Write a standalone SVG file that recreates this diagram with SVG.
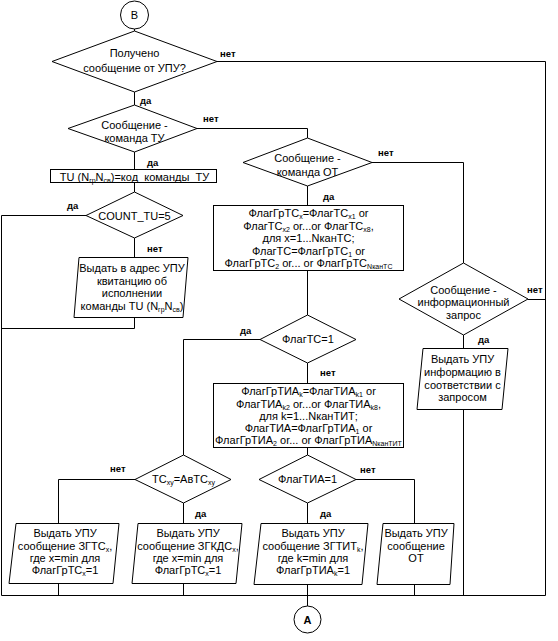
<svg xmlns="http://www.w3.org/2000/svg" width="558" height="641" viewBox="0 0 558 641">
<style>
.sh{fill:#fff;stroke:#000;stroke-width:1}
.ln{fill:none;stroke:#000;stroke-width:1}
.t{font-family:"Liberation Sans",Arial,sans-serif;font-size:11px;fill:#000;text-anchor:middle}
.lb{font-family:"Liberation Sans",Arial,sans-serif;font-size:9.5px;font-weight:bold;fill:#000}
.s{font-size:7px}
</style>
<rect width="558" height="641" fill="#fff"/>
<g id="connectors">
<polyline class="ln" points="134.5,29 134.5,31"/>
<polyline class="ln" points="217,61.5 545.5,61.5 545.5,595.5"/>
<polyline class="ln" points="134.5,92 134.5,105"/>
<polyline class="ln" points="197,128.5 307.5,128.5 307.5,138"/>
<polyline class="ln" points="134.5,152 134.5,169"/>
<polyline class="ln" points="134.5,183 134.5,192"/>
<polyline class="ln" points="86,215.5 1.5,215.5 1.5,595.5"/>
<polyline class="ln" points="134.5,238 134.5,257"/>
<polyline class="ln" points="134.5,317 134.5,328.5 1.5,328.5"/>
<polyline class="ln" points="372,162.5 463.5,162.5 463.5,263"/>
<polyline class="ln" points="307.5,186 307.5,205"/>
<polyline class="ln" points="307.5,271 307.5,315"/>
<polyline class="ln" points="528,299.5 545.5,299.5"/>
<polyline class="ln" points="463.5,335 463.5,348"/>
<polyline class="ln" points="463.5,409 463.5,595.5"/>
<polyline class="ln" points="260,339.5 183.5,339.5 183.5,455"/>
<polyline class="ln" points="307.5,363 307.5,383"/>
<polyline class="ln" points="307.5,448 307.5,455"/>
<polyline class="ln" points="135,479.5 58.5,479.5 58.5,523"/>
<polyline class="ln" points="183.5,503 183.5,523"/>
<polyline class="ln" points="356,479.5 414.5,479.5 414.5,523"/>
<polyline class="ln" points="307.5,503 307.5,523"/>
<polyline class="ln" points="58.5,583 58.5,595.5"/>
<polyline class="ln" points="183.5,583 183.5,595.5"/>
<polyline class="ln" points="307.5,584 307.5,606"/>
<polyline class="ln" points="414.5,584 414.5,595.5"/>
<polyline class="ln" points="1.5,595.5 545.5,595.5"/>
<text class="lb" x="220" y="57">нет</text>
<text class="lb" x="140" y="104">да</text>
<text class="lb" x="203" y="122">нет</text>
<text class="lb" x="147" y="166">да</text>
<text class="lb" x="67" y="209">да</text>
<text class="lb" x="147" y="252">нет</text>
<text class="lb" x="378" y="156">нет</text>
<text class="lb" x="323" y="200">да</text>
<text class="lb" x="527" y="293">нет</text>
<text class="lb" x="478" y="343">да</text>
<text class="lb" x="240" y="334">да</text>
<text class="lb" x="320" y="376">нет</text>
<text class="lb" x="110" y="472">нет</text>
<text class="lb" x="195" y="517">да</text>
<text class="lb" x="360" y="473">нет</text>
<text class="lb" x="320" y="517">да</text>
</g>
<g id="startB">
<circle class="sh" cx="134.5" cy="15" r="14"/>
<text class="t" x="134.5" y="19">В</text>
</g>
<g id="d1">
<polygon class="sh" points="134.5,31 217,61.5 134.5,92 52,61.5"/>
<text class="t" x="134.5" y="57">Получено</text>
<text class="t" x="134.5" y="72">сообщение от УПУ?</text>
</g>
<g id="d2">
<polygon class="sh" points="134.5,105 197,128.5 134.5,152 68,128.5"/>
<text class="t" x="134.5" y="129">Сообщение -</text>
<text class="t" x="134.5" y="142">команда ТУ</text>
</g>
<g id="tu">
<rect class="sh" x="50.5" y="169.5" width="166" height="13"/>
<text class="t" x="134.5" y="180.5">TU (N<tspan class="s" baseline-shift="-1.5">гр</tspan>N<tspan class="s" baseline-shift="-1.5">св</tspan>)=код_команды_ТУ</text>
</g>
<g id="count">
<polygon class="sh" points="134.5,192 183,215.5 134.5,238 86,215.5"/>
<text class="t" x="134.5" y="219.5">COUNT_TU=5</text>
</g>
<g id="kvit">
<polygon class="sh" points="79,257.5 188,257.5 183,317.5 74,317.5"/>
<text class="t" x="132" y="272">Выдать в адрес УПУ</text>
<text class="t" x="132" y="284.5">квитанцию об</text>
<text class="t" x="132" y="297">исполнении</text>
<text class="t" x="132" y="309.5">команды TU (N<tspan class="s" baseline-shift="-1.5">гр</tspan>N<tspan class="s" baseline-shift="-1.5">св</tspan>)</text>
</g>
<g id="d3">
<polygon class="sh" points="307.5,138 372,162.5 307.5,186 243,162.5"/>
<text class="t" x="307.5" y="162">Сообщение -</text>
<text class="t" x="307.5" y="176">команда ОТ</text>
</g>
<g id="box1">
<rect class="sh" x="213.5" y="205.5" width="190" height="65"/>
<text class="t" x="308.5" y="217">ФлагГрТС<tspan class="s" baseline-shift="-1.5">x</tspan>=ФлагТС<tspan class="s" baseline-shift="-1.5">x1</tspan> or</text>
<text class="t" x="308.5" y="229.5">ФлагТС<tspan class="s" baseline-shift="-1.5">x2</tspan> or...or ФлагТС<tspan class="s" baseline-shift="-1.5">x8</tspan>,</text>
<text class="t" x="308.5" y="242">для x=1...NканТС;</text>
<text class="t" x="308.5" y="254.5">ФлагТС=ФлагГрТС<tspan class="s" baseline-shift="-1.5">1</tspan> or</text>
<text class="t" x="308.5" y="267">ФлагГрТС<tspan class="s" baseline-shift="-1.5">2</tspan> or... or ФлагГрТС<tspan class="s" baseline-shift="-1.5">NканТС</tspan></text>
</g>
<g id="info">
<polygon class="sh" points="463.5,263 528,299 463.5,335 399,299"/>
<text class="t" x="463.5" y="294">Сообщение -</text>
<text class="t" x="463.5" y="306">информационный</text>
<text class="t" x="463.5" y="319">запрос</text>
</g>
<g id="infoOut">
<polygon class="sh" points="423,348.5 508,348.5 502,409.5 417,409.5"/>
<text class="t" x="462.5" y="363">Выдать УПУ</text>
<text class="t" x="462.5" y="376">информацию в</text>
<text class="t" x="462.5" y="388.5">соответствии с</text>
<text class="t" x="462.5" y="401">запросом</text>
</g>
<g id="flagTC">
<polygon class="sh" points="307.5,315 356,339.5 307.5,363 260,339.5"/>
<text class="t" x="308" y="343">ФлагТС=1</text>
</g>
<g id="box2">
<rect class="sh" x="213.5" y="383.5" width="190" height="64"/>
<text class="t" x="308.5" y="395">ФлагГрТИА<tspan class="s" baseline-shift="-1.5">k</tspan>=ФлагТИА<tspan class="s" baseline-shift="-1.5">k1</tspan> or</text>
<text class="t" x="308.5" y="407.5">ФлагТИА<tspan class="s" baseline-shift="-1.5">k2</tspan> or...or ФлагТИА<tspan class="s" baseline-shift="-1.5">k8</tspan>,</text>
<text class="t" x="308.5" y="420">для k=1...NканТИТ;</text>
<text class="t" x="308.5" y="432">ФлагТИА=ФлагГрТИА<tspan class="s" baseline-shift="-1.5">1</tspan> or</text>
<text class="t" x="308.5" y="444">ФлагГрТИА<tspan class="s" baseline-shift="-1.5">2</tspan> or... or ФлагГрТИА<tspan class="s" baseline-shift="-1.5">NканТИТ</tspan></text>
</g>
<g id="tcxy">
<polygon class="sh" points="183.5,455 231,479.5 183.5,503 135,479.5"/>
<text class="t" x="183.5" y="483">ТС<tspan class="s" baseline-shift="-1.5">xy</tspan>=АвТС<tspan class="s" baseline-shift="-1.5">xy</tspan></text>
</g>
<g id="flagTIA">
<polygon class="sh" points="307.5,455 356,479.5 307.5,503 259,479.5"/>
<text class="t" x="307.5" y="483">ФлагТИА=1</text>
</g>
<g id="outZGTC">
<polygon class="sh" points="16,523.5 119,523.5 113,583.5 9,583.5"/>
<text class="t" x="65" y="537">Выдать УПУ</text>
<text class="t" x="65" y="550">сообщение ЗГТС<tspan class="s" baseline-shift="-1.5">x</tspan>,</text>
<text class="t" x="65" y="562">где x=min для</text>
<text class="t" x="65" y="574">ФлагГрТС<tspan class="s" baseline-shift="-1.5">x</tspan>=1</text>
</g>
<g id="outZGKDS">
<polygon class="sh" points="138,523.5 242,523.5 236,583.5 132,583.5"/>
<text class="t" x="188" y="537">Выдать УПУ</text>
<text class="t" x="188" y="550">сообщение ЗГКДС<tspan class="s" baseline-shift="-1.5">x</tspan>,</text>
<text class="t" x="188" y="562">где x=min для</text>
<text class="t" x="188" y="574">ФлагГрТС<tspan class="s" baseline-shift="-1.5">x</tspan>=1</text>
</g>
<g id="outZGTIT">
<polygon class="sh" points="261,523.5 368,523.5 362,584.5 254,584.5"/>
<text class="t" x="313" y="537">Выдать УПУ</text>
<text class="t" x="313" y="550">сообщение ЗГТИТ<tspan class="s" baseline-shift="-1.5">k</tspan>,</text>
<text class="t" x="313" y="562">где k=min для</text>
<text class="t" x="313" y="574">ФлагГрТИА<tspan class="s" baseline-shift="-1.5">k</tspan>=1</text>
</g>
<g id="outOT">
<polygon class="sh" points="383,523.5 454,523.5 450,584.5 377,584.5"/>
<text class="t" x="416" y="537">Выдать УПУ</text>
<text class="t" x="416" y="550">сообщение</text>
<text class="t" x="416" y="562">ОТ</text>
</g>
<g id="endA">
<circle class="sh" cx="307.5" cy="619.5" r="13.5"/>
<text class="t" x="307.5" y="623.5" font-weight="bold">А</text>
</g>
</svg>
